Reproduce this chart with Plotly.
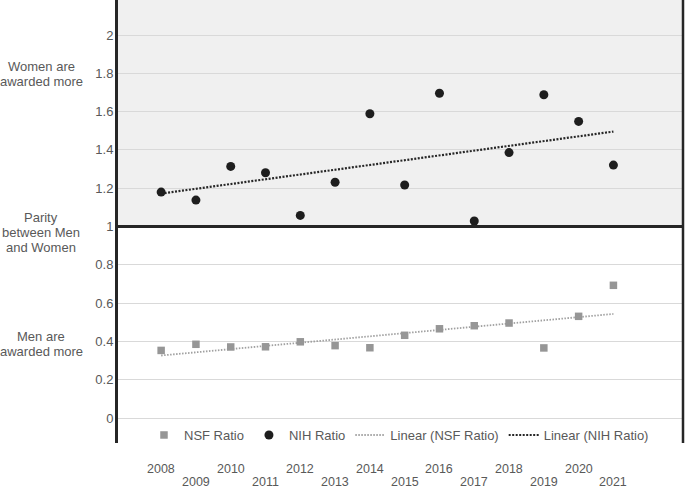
import numpy as np
import plotly.graph_objects as go

years = [2008, 2009, 2010, 2011, 2012, 2013, 2014, 2015, 2016, 2017, 2018, 2019, 2020, 2021]
nsf_ratio = [0.353, 0.385, 0.371, 0.372, 0.398, 0.378, 0.367, 0.432, 0.466, 0.482, 0.496, 0.366, 0.531, 0.693]
nih_ratio = [1.180, 1.138, 1.314, 1.281, 1.058, 1.231, 1.589, 1.217, 1.696, 1.029, 1.386, 1.688, 1.549, 1.321]
year_labels = [str(y) for y in years]
y_ticks = [0, 0.2, 0.4, 0.6, 0.8, 1, 1.2, 1.4, 1.6, 1.8, 2]
side_labels = [
    (["Women are", "awarded more"], [66, 81]),
    (["Parity", "between Men", "and Women"], [217, 232, 247]),
    (["Men are", "awarded more"], [336, 351]),
]

FONT = "Liberation Sans, Arial, sans-serif"
TXT = "#595959"

x = np.array(years, dtype=float)
nsf_fit = np.polyfit(x, np.array(nsf_ratio), 1)
nih_fit = np.polyfit(x, np.array(nih_ratio), 1)
xs = np.array([years[0], years[-1]], dtype=float)

fig = go.Figure()
fig.add_trace(go.Scatter(
    x=xs, y=np.polyval(nsf_fit, xs), mode="lines", name="Linear (NSF Ratio)",
    line=dict(color="#a0a0a0", width=1.8, dash="1.5px,1.5px"), legendrank=3))
fig.add_trace(go.Scatter(
    x=xs, y=np.polyval(nih_fit, xs), mode="lines", name="Linear (NIH Ratio)",
    line=dict(color="#262626", width=2.2, dash="2px,1.5px"), legendrank=4))
fig.add_trace(go.Scatter(
    x=years, y=nsf_ratio, mode="markers", name="NSF Ratio",
    marker=dict(symbol="square", size=7.5, color="#969696"), legendrank=1))
fig.add_trace(go.Scatter(
    x=years, y=nih_ratio, mode="markers", name="NIH Ratio",
    marker=dict(symbol="circle", size=9, color="#1e1e1e"), legendrank=2))

ymin, ymax = -0.1305, 2.183
shapes = [
    dict(type="rect", xref="paper", x0=0, x1=1, yref="y", y0=1, y1=ymax,
         fillcolor="#f0f0f0", line=dict(width=0), layer="below"),
    dict(type="line", xref="paper", x0=0, x1=1, yref="y", y0=1, y1=1,
         line=dict(color="#262626", width=3), layer="above"),
    dict(type="line", xref="paper", x0=1, x1=1, yref="paper", y0=0, y1=1,
         line=dict(color="#262626", width=2.5), layer="above"),
]

annotations = []
for i, (yr, lab) in enumerate(zip(years, year_labels)):
    annotations.append(dict(
        x=yr, xref="x", y=0, yref="paper", text=lab, showarrow=False,
        xanchor="center", yanchor="middle", yshift=-26 if i % 2 == 0 else -38.5,
        font=dict(family=FONT, size=12.5, color=TXT)))
for lines, pys in side_labels:
    for t, py in zip(lines, pys):
        annotations.append(dict(
            x=0, xref="paper", xshift=-77, y=1, yref="paper", yshift=-py,
            text=t, showarrow=False, xanchor="center", yanchor="middle",
            font=dict(family=FONT, size=13, color=TXT)))

fig.update_layout(
    width=685, height=492,
    margin=dict(l=118, r=2, t=0, b=49),
    paper_bgcolor="white", plot_bgcolor="white",
    font=dict(family=FONT, size=13, color=TXT),
    shapes=shapes, annotations=annotations,
    legend=dict(orientation="h", x=0.046, xanchor="left", y=0.018, yanchor="middle",
                bgcolor="rgba(0,0,0,0)", font=dict(family=FONT, size=13, color=TXT)),
    xaxis=dict(range=[2006.76, 2023.0], showticklabels=False, showgrid=False,
               zeroline=False, showline=False, ticks=""),
    yaxis=dict(range=[ymin, ymax], tickvals=y_ticks, showgrid=True, gridcolor="#d9d9d9",
               gridwidth=1, zeroline=False, showline=True, linecolor="#262626",
               linewidth=3, ticks="", ticklabelstandoff=-1,
               tickfont=dict(family=FONT, size=13, color=TXT)),
)

fig.write_html("out.html", config={"displayModeBar": False},
               post_script="document.body.style.margin='0';")
